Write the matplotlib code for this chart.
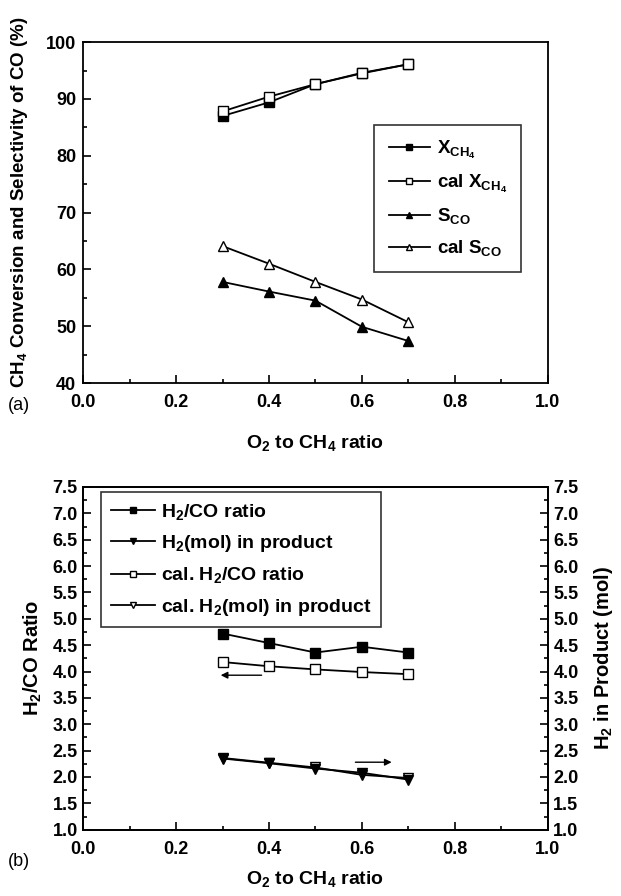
import numpy as np
import matplotlib
matplotlib.use("Agg")
import matplotlib.pyplot as plt
from matplotlib.ticker import MultipleLocator

# Bold Arial-like look everywhere, math text included
plt.rcParams["font.family"] = ["Liberation Sans", "DejaVu Sans"]
plt.rcParams["font.weight"] = "bold"
plt.rcParams["axes.labelweight"] = "bold"
plt.rcParams["mathtext.fontset"] = "custom"
plt.rcParams["mathtext.rm"] = "Liberation Sans:bold"
plt.rcParams["mathtext.bf"] = "Liberation Sans:bold"
plt.rcParams["mathtext.it"] = "Liberation Sans:bold"
plt.rcParams["mathtext.default"] = "rm"

# O2 to CH4 ratio
ratio = [0.3, 0.4, 0.5, 0.6, 0.7]

# panel (a): conversion / selectivity (%)
x_ch4 = [87.0, 89.4, 92.6, 94.6, 96.1]
cal_x_ch4 = [87.8, 90.4, 92.6, 94.5, 96.1]
s_co = [57.8, 56.1, 54.5, 49.9, 47.4]
cal_s_co = [64.1, 61.0, 57.8, 54.7, 50.7]

# panel (b)
h2_co = [4.72, 4.54, 4.36, 4.47, 4.36]
cal_h2_co = [4.18, 4.10, 4.04, 3.99, 3.95]
h2_mol = [2.35, 2.26, 2.16, 2.08, 1.95]
cal_h2_mol = [2.36, 2.27, 2.18, 2.04, 1.98]

fig = plt.figure(figsize=(6.21, 8.96), dpi=100)

lw = 1.3
ms = 6.5


def style_ticks(a):
    a.tick_params(which="both", direction="in", labelsize=13, width=1.2)
    a.tick_params(which="major", length=6)
    a.tick_params(which="minor", length=3)
    for s in a.spines.values():
        s.set_linewidth(1.3)


# ---------- panel (a) ----------
ax = fig.add_axes([0.134, 0.5725, 0.748, 0.3805])
ax.plot(ratio, x_ch4, "-s", color="black", lw=lw, ms=ms, mfc="black", label=r"X$_{CH_4}$")
ax.plot(ratio, cal_x_ch4, "-s", color="black", lw=lw, ms=ms, mfc="white", label=r"cal X$_{CH_4}$")
ax.plot(ratio, s_co, "-^", color="black", lw=lw, ms=ms + 1, mfc="black", label=r"S$_{CO}$")
ax.plot(ratio, cal_s_co, "-^", color="black", lw=lw, ms=ms + 1, mfc="white", label=r"cal S$_{CO}$")

ax.set_xlim(0.0, 1.0)
ax.set_ylim(40, 100)
ax.xaxis.set_major_locator(MultipleLocator(0.2))
ax.xaxis.set_minor_locator(MultipleLocator(0.1))
ax.yaxis.set_major_locator(MultipleLocator(10))
ax.yaxis.set_minor_locator(MultipleLocator(5))
ax.xaxis.set_major_formatter(plt.FormatStrFormatter("%.1f"))
style_ticks(ax)
ax.tick_params(top=False, right=False)
ax.tick_params(axis="x", pad=8)
ax.tick_params(axis="y", pad=5)
ax.set_xlabel(r"O$_2$ to CH$_4$ ratio", fontsize=14, labelpad=16)
ax.set_ylabel(r"CH$_4$ Conversion and Selectivity of CO (%)", fontsize=13.5)
ax.yaxis.set_label_coords(-0.115, 0.53)
leg = ax.legend(loc="upper left", bbox_to_anchor=(0.627, 0.757), fontsize=13.5, numpoints=1,
                frameon=True, fancybox=False, edgecolor="black", handlelength=2.2,
                labelspacing=0.62, borderpad=0.75, handletextpad=0.4, markerscale=0.65,
                borderaxespad=0)
leg.get_frame().set_linewidth(1.2)
fig.text(0.013, 0.542, "(a)", fontsize=13, fontweight="normal")

# ---------- panel (b) ----------
bx = fig.add_axes([0.134, 0.074, 0.748, 0.3825])
bx2 = bx.twinx()
l3, = bx.plot(ratio, cal_h2_co, "-s", color="black", lw=lw, ms=ms, mfc="white", label=r"cal. H$_2$/CO ratio")
l1, = bx.plot(ratio, h2_co, "-s", color="black", lw=lw, ms=ms, mfc="black", label=r"H$_2$/CO ratio")
l4, = bx2.plot(ratio, cal_h2_mol, "-v", color="black", lw=lw, ms=ms + 1, mfc="white", label=r"cal. H$_2$(mol) in product")
l2, = bx2.plot(ratio, h2_mol, "-v", color="black", lw=lw, ms=ms + 1, mfc="black", label=r"H$_2$(mol) in product")

for a in (bx, bx2):
    a.set_ylim(1.0, 7.5)
    a.yaxis.set_major_locator(MultipleLocator(0.5))
    a.yaxis.set_minor_locator(MultipleLocator(0.25))
    a.yaxis.set_major_formatter(plt.FormatStrFormatter("%.1f"))
    style_ticks(a)
    a.tick_params(axis="y", pad=4)
bx.set_xlim(0.0, 1.0)
bx.xaxis.set_major_locator(MultipleLocator(0.2))
bx.xaxis.set_minor_locator(MultipleLocator(0.1))
bx.xaxis.set_major_formatter(plt.FormatStrFormatter("%.1f"))
bx.tick_params(top=False)
bx.tick_params(axis="x", pad=8)

bx.set_xlabel(r"O$_2$ to CH$_4$ ratio", fontsize=14, labelpad=8)
bx.set_ylabel(r"H$_2$/CO Ratio", fontsize=14.5, labelpad=6)
bx2.set_ylabel(r"H$_2$ in Product (mol)", fontsize=14.5, labelpad=10)

# direction arrows
bx.annotate("", xy=(0.29, 3.93), xytext=(0.39, 3.93),
            arrowprops=dict(arrowstyle="-|>", color="black", lw=1.0, mutation_scale=10))
bx2.annotate("", xy=(0.67, 2.28), xytext=(0.58, 2.28),
             arrowprops=dict(arrowstyle="-|>", color="black", lw=1.0, mutation_scale=10))

leg2 = bx2.legend(handles=[l1, l2, l3, l4], loc="upper left", bbox_to_anchor=(0.038, 0.985),
                  fontsize=14, numpoints=1, frameon=True, fancybox=False, edgecolor="black",
                  handlelength=2.3, labelspacing=0.58, borderpad=0.5, handletextpad=0.3,
                  markerscale=0.65, borderaxespad=0)
leg2.get_frame().set_linewidth(1.2)
fig.text(0.013, 0.034, "(b)", fontsize=13, fontweight="normal")

fig.savefig("out.png", dpi=100)
